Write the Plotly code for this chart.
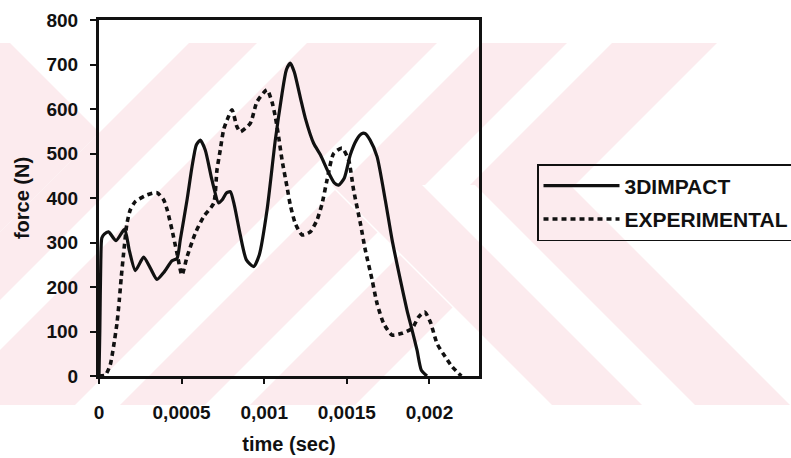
import plotly.graph_objects as go

# ---- data -------------------------------------------------------------
impact_t = [0, 0.000005, 0.000011, 0.000017, 0.000032, 0.000058, 0.000103, 0.000155,
            0.000183, 0.00022, 0.00027, 0.00031, 0.000351, 0.000395, 0.000442, 0.000472,
            0.000492, 0.000533, 0.000563, 0.000589, 0.000613, 0.000643, 0.000684, 0.000724,
            0.000746, 0.000771, 0.000795, 0.000819, 0.000855, 0.000892, 0.000936, 0.00097,
            0.001017, 0.001067, 0.001108, 0.001134, 0.001158, 0.001182, 0.001219, 0.001249,
            0.001299, 0.00134, 0.001388, 0.001424, 0.00145, 0.001485, 0.001521, 0.001558,
            0.001588, 0.00161, 0.001641, 0.001683, 0.001733, 0.001774, 0.001824, 0.001864,
            0.001895, 0.001925, 0.001951, 0.001985]
impact_f = [0, 103, 260, 310, 319, 324, 304, 330,
            283, 237, 267, 243, 217, 234, 259, 264,
            306, 396, 470, 519, 530, 508, 440, 389,
            396, 411, 414, 384, 317, 261, 246, 272,
            373, 530, 635, 688, 703, 683, 625, 579,
            523, 497, 458, 434, 429, 445, 497, 530,
            544, 545, 530, 493, 395, 306, 216, 148,
            103, 58, 13, 0]

exp_t = [0, 0.000038, 0.000068, 0.000088, 0.000109, 0.000123, 0.000135, 0.000149,
         0.000169, 0.000189, 0.00022, 0.000291, 0.000351, 0.000391, 0.000413, 0.000442,
         0.000472, 0.000502, 0.000533, 0.000583, 0.000633, 0.000694, 0.000714, 0.000734,
         0.000754, 0.000775, 0.000805, 0.000835, 0.000855, 0.000916, 0.000956, 0.001017,
         0.001047, 0.001067, 0.001087, 0.001108, 0.001138, 0.001158, 0.001188, 0.001229,
         0.001279, 0.00132, 0.00135, 0.00138, 0.00142, 0.001471, 0.001511, 0.001541,
         0.001582, 0.001612, 0.001653, 0.001683, 0.001723, 0.001774, 0.001834, 0.001895,
         0.001935, 0.001971, 0.002005, 0.002046, 0.002096, 0.002137, 0.002193]
exp_f = [0, 2, 25, 66, 119, 171, 223, 276,
         342, 373, 392, 407, 412, 396, 373, 328,
         276, 227, 268, 321, 358, 388, 463, 508,
         553, 575, 598, 560, 549, 568, 616, 643,
         616, 583, 538, 485, 425, 384, 343, 317,
         324, 351, 387, 440, 500, 512, 485, 418,
         343, 283, 216, 163, 118, 92, 96, 107,
         133, 144, 122, 73, 43, 21, 0]

x_ticks = [0, 0.0005, 0.001, 0.0015, 0.002]
x_tick_text = ["0", "0,0005", "0,001", "0,0015", "0,002"]
y_ticks = [0, 100, 200, 300, 400, 500, 600, 700, 800]

# ---- page geometry (pixels) ---------------------------------------------
W, H = 791, 458
L, R, T, B = 99, 479, 20, 376
PW, PH = R - L, B - T


def to_paper(px, py):
    return (px - L) / PW, (B - py) / PH


def poly(points, color):
    pts = [to_paper(x, y) for x, y in points]
    path = "M " + " L ".join(f"{x:.5f},{y:.5f}" for x, y in pts) + " Z"
    return dict(type="path", path=path, xref="paper", yref="paper",
                fillcolor=color, line_width=0, layer="below")


# faint diagonal stripe background
PINK = "#fcebee"
TOP, BOT = 43, 405
shapes = []
# "/" stripes: bands of constant x + y
for c0, c1 in [(232, 300), (350, 480), (525, 610), (655, 760)]:
    shapes.append(poly([(c0 - TOP, TOP), (c1 - TOP, TOP), (c1 - BOT, BOT), (c0 - BOT, BOT)], PINK))
# top-left corner wedge
shapes.append(poly([(0, TOP), (10, TOP), (99.5, 132.5), (0, 232)], PINK))
# lower right: "\" stripes (constant x - y)
VY = 185
shapes.append(poly([(VY + 145, VY), (W + 5, VY), (W + 5, BOT), (BOT + 145, BOT)], "white"))
for d0, d1 in [(147, 237), (290, 385)]:
    shapes.append(poly([(VY + d0, VY), (VY + d1, VY), (BOT + d1, BOT), (BOT + d0, BOT)], PINK))

FONT = "Liberation Sans, Arial, sans-serif"
INK = "#111111"

fig = go.Figure()
fig.add_trace(go.Scatter(
    x=impact_t, y=impact_f, name="3DIMPACT", mode="lines", legendgroup="a",
    line=dict(color=INK, width=3.2, shape="spline", smoothing=0.6),
))
fig.add_trace(go.Scatter(
    x=exp_t, y=exp_f, name="EXPERIMENTAL", mode="lines", legendgroup="b",
    line=dict(color=INK, width=3.6, dash="5px,4px", shape="spline", smoothing=0.6),
))

axis_font = dict(family=FONT, size=19, color=INK, weight="bold")
fig.update_layout(
    width=W, height=H,
    margin=dict(l=L, r=W - R, t=T, b=H - B, pad=0, autoexpand=False),
    paper_bgcolor="white",
    plot_bgcolor="rgba(0,0,0,0)",
    shapes=shapes,
    showlegend=True,
    legend=dict(
        x=(537 - L) / PW, xanchor="left",
        y=(B - 164) / PH, yanchor="top",
        bgcolor="rgba(0,0,0,0)", bordercolor=INK, borderwidth=1.5,
        font=dict(family=FONT, size=21, color=INK, weight="bold"),
        itemwidth=76, traceorder="grouped", tracegroupgap=3,
    ),
    xaxis=dict(
        range=[0, 0.0023], tickvals=x_ticks, ticktext=x_tick_text,
        showgrid=False, zeroline=False,
        showline=True, linecolor=INK, linewidth=3, mirror=True,
        ticks="outside", ticklen=5, tickwidth=1.5, tickcolor=INK,
        tickfont=axis_font, ticklabelstandoff=12,
        title=dict(text="time (sec)", font=dict(family=FONT, size=20, color=INK, weight="bold"),
                   standoff=16),
    ),
    yaxis=dict(
        range=[0, 800], tickvals=y_ticks,
        showgrid=False, zeroline=False,
        showline=True, linecolor=INK, linewidth=3, mirror=True,
        ticks="outside", ticklen=6, tickwidth=1.5, tickcolor=INK,
        tickfont=axis_font, ticklabelstandoff=8,
        title=dict(text="force (N)", font=dict(family=FONT, size=20, color=INK, weight="bold"),
                   standoff=12),
    ),
)

fig.write_html("out.html")
